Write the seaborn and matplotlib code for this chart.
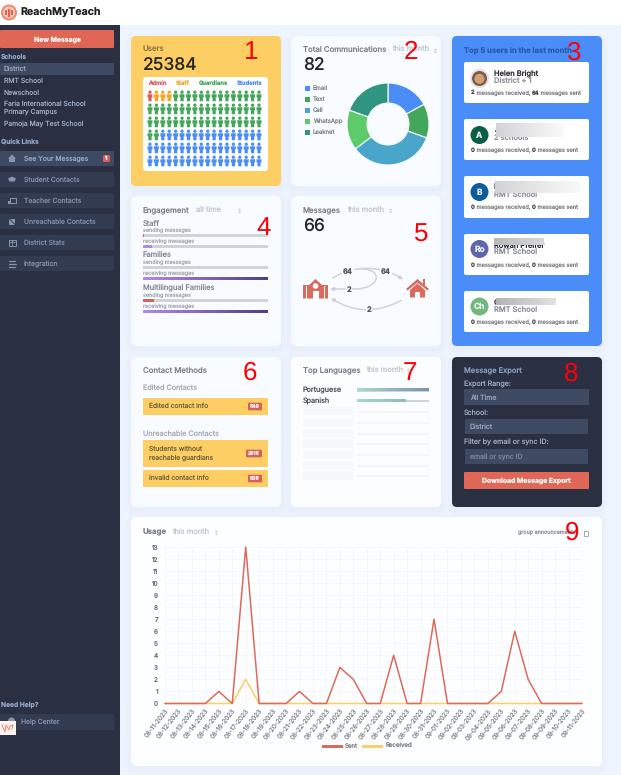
import numpy as np
import pandas as pd
import seaborn as sns
import matplotlib
matplotlib.use('Agg')
import matplotlib.pyplot as plt
from matplotlib.patches import FancyBboxPatch, Rectangle, Circle, Polygon, FancyArrowPatch
from matplotlib.path import Path
from matplotlib.colors import LinearSegmentedColormap

# data
user_groups = ['Admin', 'Staff', 'Guardians', 'Students']
user_icons = [1, 3, 52, 52]
user_colors = ['#d9605a', '#f5a623', '#43a65a', '#4b8df8']

comm_labels = ['Email', 'Text', 'Call', 'WhatsApp', 'Leaknet']
comm_values = [14, 11, 28, 13, 16]
comm_colors = ['#4b8df8', '#43a65a', '#4aa5cb', '#5ecb6b', '#2f9480']

top_users = ['Helen Bright', 'A', 'B', 'Rowan Pfeifer', 'Ch']
top_schools = ['District + 1', '2 schools', 'RMT School', 'RMT School', 'RMT School']
top_received = [2, 0, 0, 0, 0]
top_sent = [64, 0, 0, 0, 0]
top_initials = ['', 'A', 'B', 'Ro', 'Ch']
top_avatar = ['#d0a27c', '#0d5c46', '#0d5b9c', '#6165ad', '#74b77c']

eng_groups = ['Staff', 'Families', 'Multilingual Families']
eng_sending = [0.01, 0.0, 0.09]
eng_receiving = [0.07, 1.0, 1.0]

flow_top = [64, 64]
flow_bottom = [2, 2]

lang_names = ['Portuguese', 'Spanish']
lang_values = [1.0, 0.67]

dates = ['08-11-2023', '08-12-2023', '08-13-2023', '08-14-2023', '08-15-2023', '08-16-2023', '08-17-2023', '08-18-2023',
         '08-19-2023', '08-20-2023', '08-21-2023', '08-22-2023', '08-23-2023', '08-24-2023', '08-25-2023', '08-26-2023',
         '08-27-2023', '08-28-2023', '08-29-2023', '08-30-2023', '08-31-2023', '09-01-2023', '09-02-2023', '09-03-2023',
         '09-04-2023', '09-05-2023', '09-06-2023', '09-07-2023', '09-08-2023', '09-09-2023', '09-10-2023', '09-11-2023']
sent = [0, 0, 0, 0, 1, 0, 13, 0, 0, 0, 1, 0, 0, 3, 2, 0, 0, 4, 0, 0, 7, 0, 0, 0, 0, 1, 6, 2, 0, 0, 0, 0]
received = [0, 0, 0, 0, 0, 0, 2, 0, 0, 0, 0, 0, 0, 0, 0, 0, 0, 0, 0, 0, 0, 0, 0, 0, 0, 0, 0, 0, 0, 0, 0, 0]

sns.set_theme(style='white')
plt.rcParams['font.family'] = ['Inter', 'DejaVu Sans']
plt.rcParams['text.hinting'] = 'no_hinting'
plt.rcParams['text.hinting_factor'] = 1

W, H = 621, 775
RED = '#e06655'
DARK = '#2a3042'
YELLOW = '#fdce63'
CARD = '#f8fbff'

fig = plt.figure(figsize=(W / 100, H / 100), dpi=100, facecolor='#eff5fe')
bg = fig.add_axes([0, 0, 1, 1], zorder=0)
bg.set_xlim(0, W)
bg.set_ylim(H, 0)
bg.autoscale(False)
bg.axis('off')


def box(x0, y0, x1, y1, color, r=2, z=2, ax=bg, **kw):
    ax.add_patch(FancyBboxPatch((x0 + r, y0 + r), x1 - x0 - 2 * r, y1 - y0 - 2 * r,
                                boxstyle=f'round,pad={r},rounding_size={r}', fc=color, ec='none', zorder=z, **kw))


def card(x0, y0, x1, y1, color=CARD):
    # soft shadow under each card
    for grow, a in [(6, 0.05), (4, 0.06), (2, 0.08)]:
        box(x0 - grow, y0 - grow + 3, x1 + grow, y1 + grow + 3, '#c9d9f0', r=5 + grow, z=1, alpha=a)
    box(x0, y0, x1, y1, color, r=5, z=2)


def txt(x, y, s, size=5, color='#8a8f98', weight='normal', ha='left', ax=bg, **kw):
    return ax.text(x, y, s, fontsize=size, color=color, fontweight=weight, ha=ha, va='center', zorder=6, **kw)


def gradient(x0, y0, x1, y1, c0, c1, z=4):
    cmap = LinearSegmentedColormap.from_list('g', [c0, c1])
    bg.imshow(np.linspace(0, 1, 64).reshape(1, -1), extent=(x0, x1, y1, y0), cmap=cmap, aspect='auto', zorder=z)


def sub_axes(x0, y0, x1, y1):
    a = fig.add_axes([x0 / W, 1 - y1 / H, (x1 - x0) / W, (y1 - y0) / H], zorder=2)
    a.patch.set_alpha(0)
    return a


def sorter(x, y):
    txt(x, y, '⇕', size=4.5, color='#b5b9c0', ha='center', family='DejaVu Sans')


renderer = fig.canvas.get_renderer()

# header and sidebar
bg.add_patch(Rectangle((0, 25), 119.5, H - 25, fc=DARK, ec='none', zorder=1))
bg.add_patch(Rectangle((0, 0), W, 25, fc='white', ec='none', zorder=1))
bg.add_patch(Circle((9, 12.5), 8, fc='#ee8a72', ec='none', zorder=3))
bg.add_patch(Circle((9, 12.5), 6, fc='#f9c9ba', ec='none', zorder=3))
for bx, bh in [(6, 5), (9, 8), (12, 5)]:
    bg.add_patch(Rectangle((bx - 1, 12.5 - bh / 2), 2, bh, fc='#e2624f', ec='none', zorder=4))
txt(20, 12.5, 'ReachMyTeach', size=7.6, color='#222222', weight='bold')

box(0, 30, 114, 48, RED, r=1)
txt(57, 39.5, 'New Message', size=4.9, color='white', weight='bold', ha='center')

HEAD = '#8fa3c4'
ITEM = '#98a7c0'
txt(1, 57.5, 'Schools', size=4.8, color=HEAD, weight='bold')
box(0, 63, 114, 75, '#3d4a62', r=1.5)
txt(4, 69, 'District', size=4.9, color=ITEM)
txt(4, 80.5, 'RMT School', size=4.9, color=ITEM)
txt(4, 92.5, 'Newschool', size=4.9, color=ITEM)
txt(4, 104, 'Faria International School', size=4.9, color=ITEM)
txt(4, 112, 'Primary Campus', size=4.9, color=ITEM)
txt(4, 123.5, 'Pamoja May Test School', size=4.9, color=ITEM)
txt(1, 141.5, 'Quick Links', size=4.8, color=HEAD, weight='bold')

nav_items = ['See Your Messages', 'Student Contacts', 'Teacher Contacts', 'Unreachable Contacts', 'District Stats', 'Integration']
ICONC = '#8795ad'
for i, name in enumerate(nav_items):
    y = 151 + 21 * i
    box(0, y, 114, y + 15, '#3d4a62' if i == 0 else '#333b50', r=1.5)
    txt(24, y + 7.8, name, size=4.9, color=ITEM if i == 0 else '#7f8da6')
    cy = y + 7.5
    if i == 0:
        bg.add_patch(Polygon([(8, cy), (12, cy - 4), (16, cy), (15, cy), (15, cy + 3.5), (9, cy + 3.5), (9, cy)], fc=ICONC, ec='none', zorder=4))
    elif i == 1:
        bg.add_patch(Polygon([(8, cy - 1), (12, cy - 3), (16, cy - 1), (14.5, cy + 2), (9.5, cy + 2)], fc=ICONC, ec='none', zorder=4))
    elif i == 2:
        bg.add_patch(Rectangle((9.5, cy - 3), 6.5, 5, fc='none', ec=ICONC, lw=0.7, zorder=4))
        bg.add_patch(Rectangle((8, cy), 3, 3.5, fc=ICONC, ec='none', zorder=4))
    elif i == 3:
        bg.add_patch(Polygon([(9, cy - 3), (15, cy - 3), (15, cy + 3.5), (9, cy + 3.5)], fc=ICONC, ec='none', zorder=4))
        bg.plot([8, 16], [cy - 4, cy + 4], color='#333b50', lw=0.6, zorder=5)
    elif i == 4:
        bg.add_patch(Rectangle((8.5, cy - 3), 7, 6, fc='none', ec=ICONC, lw=0.7, zorder=4))
        bg.plot([8.5, 15.5], [cy - 1, cy - 1], color=ICONC, lw=0.6, zorder=4)
        bg.plot([12, 12], [cy - 3, cy + 3], color=ICONC, lw=0.6, zorder=4)
    else:
        for dy, x0, x1 in [(-3, 9, 15), (0, 8.5, 15.5), (3, 9, 15)]:
            bg.plot([x0, x1], [cy + dy, cy + dy], color=ICONC, lw=0.9, zorder=4)
box(103, 155, 110, 162, '#d9605a', r=1, z=4)
txt(106.5, 158.6, '1', size=3.8, color='white', weight='bold', ha='center')

txt(1, 704.5, 'Need Help?', size=4.8, color=HEAD, weight='bold')
box(0, 714, 114, 730, '#333b50', r=1.5)
txt(21, 721.5, 'Help Center', size=4.9, color='#7f8da6')
bg.add_patch(Circle((11.5, 721), 3.5, fc='#8795ad', ec='none', zorder=4))

# cards
card(131, 36, 281, 186, YELLOW)
card(291, 36, 441, 186)
card(452, 36, 602, 346, '#4b8df8')
card(131, 196, 281, 346)
card(291, 196, 441, 346)
card(131, 357, 281, 507)
card(291, 357, 441, 507, '#fcfdff')
card(452, 357, 602, 507, DARK)
card(131, 517, 602, 766, '#fdfeff')

# 1 users
txt(143, 50, 'Users', size=5.6, color='#8b7a45', weight='medium')
txt(143, 65.5, '25384', size=12.5, color='#26282c', weight='medium')
box(143, 77, 268, 171, 'white', r=3, z=3)
for (lx, name, c) in zip([148, 176, 199, 237], user_groups, user_colors):
    txt(lx, 83, name, size=4.2, color=c, weight='bold')

# people as one custom marker: head + body
head = Path.circle((0, 0.68), 0.31)
body = Path([(-0.46, 0.3), (0.46, 0.3), (0.46, -0.3), (0.3, -0.3), (0.3, -1), (-0.3, -1), (-0.3, -0.3), (-0.46, -0.3), (-0.46, 0.3)],
            [1, 2, 2, 2, 2, 2, 2, 2, 79])
person = Path.make_compound_path(head, body)

n_cols = 18
people = pd.DataFrame({'idx': np.arange(sum(user_icons)), 'group': np.repeat(user_groups, user_icons)})
people['col'] = people['idx'] % n_cols
people['row'] = people['idx'] // n_cols
ax_w = sub_axes(146, 90, 263, 167)
sns.scatterplot(data=people, x='col', y='row', hue='group', palette=dict(zip(user_groups, user_colors)),
                marker=person, s=60, linewidth=0, legend=False, ax=ax_w)
ax_w.set_xlim(-0.62, 17.62)
ax_w.set_ylim(5.47, -0.45)
ax_w.axis('off')

# 2 communications
txt(303, 50, 'Total Communications', size=5.6, color='#7d828a', weight='medium')
txt(392, 50, 'this month', size=5.4, color='#c3c6cc')
sorter(435, 51)
txt(303, 65.5, str(sum(comm_values)), size=12.5, color='#26282c', weight='medium')
for i, (name, c) in enumerate(zip(comm_labels, comm_colors)):
    y = 88 + 11 * i
    bg.add_patch(Rectangle((304.5, y - 2.5), 5, 5, fc=c, ec='none', zorder=4))
    txt(313, y, name, size=4.3, color='#80858c')
ax_p = sub_axes(346, 82, 430, 166)
ax_p.pie(comm_values, colors=comm_colors, startangle=90, counterclock=False, radius=1,
         wedgeprops=dict(width=0.49, edgecolor='white', linewidth=0.8))
ax_p.set_xlim(-1.024, 1.024)
ax_p.set_ylim(-1.024, 1.024)

# 3 top users
txt(464, 50, 'Top 5 users in the last month', size=5.5, color='#2b5aa8', weight='bold')
top_boxes = [(62, 103), (119, 160), (176, 218), (234, 275), (291, 332)]
avatar_y = [78.5, 135, 192, 249, 306.5]
name_y = [73.5, 130, 187, 246, 303]
school_y = [80.5, 138, 195, 252, 309.5]
for i, (y0, y1) in enumerate(top_boxes):
    box(464, y0, 589, y1, 'white', r=2, z=3)
    ay = avatar_y[i]
    bg.add_patch(Circle((479.5, ay), 9 if i else 9.5, fc=top_avatar[i] if i else '#d4e3ff', ec='none', zorder=4))
    if top_initials[i]:
        txt(479.5, ay + 0.2, top_initials[i], size=6, color='#e8f2ee', weight='bold', ha='center')
    else:
        bg.add_patch(Circle((479.5, ay), 7.5, fc='#8a5a33', ec='none', zorder=4))
        bg.add_patch(Circle((479.5, ay + 0.3), 5, fc=top_avatar[0], ec='none', zorder=4))
    txt(494, name_y[i], top_users[i], size=5.4, color='#2c2e33', weight='medium')
    txt(494, school_y[i], top_schools[i], size=5.4, color='#8d909c', weight='medium')
    # bold counts inside one sentence, placed piece by piece on one baseline
    x = 471
    pieces = [(str(top_received[i]), '#44464c', 'bold'), (' messages received, ', '#77797f', 'normal'),
              (str(top_sent[i]), '#44464c', 'bold'), (' messages sent', '#77797f', 'normal')]
    for s, c, w in pieces:
        t = bg.text(x, y0 + 32.5, s, fontsize=4.1, color=c, fontweight=w, va='baseline', zorder=6)
        x += t.get_window_extent(renderer).width
# blurred names sit over the text
gradient(496, 123, 564, 137, '#d4d4d6', '#fafafa', z=7)
gradient(495, 181, 581, 193, '#d4d4d6', '#fafafa', z=7)
gradient(494, 238, 544, 245, '#b9b9bb', '#d8d8da', z=7)
gradient(496, 298, 556, 305, '#b4b4b6', '#e2e2e4', z=7)

# 4 engagement
txt(143, 211, 'Engagement', size=5.6, color='#7d828a', weight='medium')
txt(195.5, 211, 'all time', size=5.4, color='#c3c6cc')
sorter(239, 211.5)
eng_y = [223.5, 255.5, 288.5]
for name, ey, s, r in zip(eng_groups, eng_y, eng_sending, eng_receiving):
    txt(143, ey, name, size=5.4, color='#85888f')
    txt(143, ey + 6.5, 'sending messages', size=3.9, color='#a6a9af')
    txt(143, ey + 17.5, 'receiving messages', size=3.9, color='#a6a9af')
    bg.add_patch(Rectangle((143, ey + 10.5), 125, 2.5, fc='#cfd3d8', ec='none', zorder=3))
    bg.add_patch(Rectangle((143, ey + 21.5), 125, 2.8, fc='#cfd3d8', ec='none', zorder=3))
    bg.add_patch(Rectangle((143, ey + 10.5), 125 * s, 2.5, fc='#d9605a', ec='none', zorder=4))
    if r < 1:
        bg.add_patch(Rectangle((143, ey + 21.5), 125 * r, 2.8, fc='#b388eb', ec='none', zorder=4))
    else:
        gradient(143, ey + 21.5, 268, ey + 24.3, '#b388eb', '#4f3f86')

# 5 messages flow
txt(303, 211, 'Messages', size=5.6, color='#7d828a', weight='medium')
txt(347, 211, 'this month', size=5.4, color='#c3c6cc')
sorter(390, 211.5)
txt(303, 226.5, str(flow_top[0] + flow_bottom[0]), size=12.5, color='#26282c', weight='medium')
ARROW = '#cfd3d6'


def arrow(verts, codes):
    bg.add_patch(FancyArrowPatch(path=Path(verts, codes), arrowstyle='-|>', mutation_scale=5, lw=1.1,
                                 color=ARROW, zorder=4))


C4 = Path.CURVE4
arrow([(333, 278), (352, 265), (382, 265), (403, 279.5)], [Path.MOVETO, C4, C4, C4])
arrow([(358, 269), (384, 267), (382, 289), (354, 289), (330, 289)], [Path.MOVETO, C4, C4, C4, Path.LINETO])
arrow([(401, 300.5), (376, 314), (352, 312), (331, 298)], [Path.MOVETO, C4, C4, C4])
for x, y, v in [(348, 272, flow_top[0]), (386, 272, flow_top[1]), (349, 290, flow_bottom[0]), (369, 309.5, flow_bottom[1])]:
    txt(x, y, str(v), size=5.4, color='#55585e', weight='bold', ha='center',
        bbox=dict(fc=CARD, ec='none', pad=0.6))

ICON = '#dc6a5c'
# school icon
bg.add_patch(Polygon([(315.5, 279), (322, 285), (328, 285), (328, 298.5), (303, 298.5), (303, 285), (309, 285)], fc=ICON, ec='none', zorder=4))
for wx in [306.5, 324.5]:
    bg.add_patch(Rectangle((wx - 0.4, 286), 0.8, 12.5, fc='white', ec='none', zorder=5))
bg.add_patch(Circle((315.5, 286), 2.8, fc='white', ec='none', zorder=5))
bg.add_patch(Rectangle((312.5, 291), 6, 7.5, fc='white', ec='none', zorder=5))
# house icon
bg.add_patch(Polygon([(406, 289), (417.5, 279), (429, 289), (427.5, 290.5), (417.5, 282.5), (407.5, 290.5)], fc=ICON, ec='none', zorder=4))
bg.add_patch(Polygon([(410, 290), (417.5, 283.5), (425, 290), (425, 297.5), (420, 297.5), (420, 292), (415, 292), (415, 297.5), (410, 297.5)],
                     fc=ICON, ec='none', zorder=4))
bg.add_patch(Rectangle((422.5, 279), 2.6, 6, fc=ICON, ec='none', zorder=4))

# 6 contact methods
txt(143, 371, 'Contact Methods', size=5.6, color='#7d828a', weight='medium')
txt(143, 387.5, 'Edited Contacts', size=5.2, color='#a6a9af')
txt(143, 433.5, 'Unreachable Contacts', size=5.2, color='#a6a9af')
contact_rows = [(398, 415, ['Edited contact info'], '549'),
                (440, 467, ['Students without', 'reachable guardians'], '2815'),
                (470, 487, ['Invalid contact info'], '606')]
for y0, y1, lines, count in contact_rows:
    box(143, y0, 268, y1, YELLOW, r=1, z=3)
    my = (y0 + y1) / 2
    if len(lines) == 1:
        txt(149, my, lines[0], size=4.8, color='#6f6340')
    else:
        txt(149, my - 4.5, lines[0], size=4.8, color='#6f6340')
        txt(149, my + 4.3, lines[1], size=4.8, color='#6f6340')
    bw = 16 if len(count) == 4 else 14
    box(262 - bw, my - 3.8, 262, my + 3.8, '#d9605a', r=1, z=4)
    txt(262 - bw / 2, my + 0.1, count, size=3.6, color='white', weight='bold', ha='center')

# 7 top languages
txt(303, 371, 'Top Languages', size=5.6, color='#7d828a', weight='medium')
txt(366, 371, 'this month', size=5.4, color='#c3c6cc')
sorter(408, 371.5)
for i, (name, v) in enumerate(zip(lang_names, lang_values)):
    y = [390.5, 401][i]
    txt(303, y, name, size=5.2, color='#4f5258')
    bg.add_patch(Rectangle((357, y - 1.2), 72, 2.2, fc='#cfd3d8', ec='none', zorder=3))
    gradient(357, y - 1.2, 357 + 72 * v, y + 1, '#a5dcc8', '#7a92b0' if v == 1 else '#8fbdb3')
for y in [411, 422, 433, 443.5, 454, 465, 475.5]:
    box(303, y - 4, 353, y + 4, '#f6f7f9', r=1, z=3)
    bg.add_patch(Rectangle((357, y - 0.5), 72, 2, fc='#f3f5f8', ec='none', zorder=3))

# 8 export
txt(464, 371, 'Message Export', size=5.4, color='#8799b8', weight='medium')
txt(464, 384.5, 'Export Range:', size=5.1, color='#97a6c0')
box(464, 389, 589, 405, '#3d4a62', r=1, z=3)
txt(470, 397.5, 'All Time', size=5, color='#95a3bb')
txt(464, 412.5, 'School:', size=5.1, color='#97a6c0')
bg.add_patch(Rectangle((465, 419), 123, 15, fc='#3d4a62', ec='none', zorder=3))
txt(470, 426.5, 'District', size=5, color='#95a3bb')
txt(464, 442.5, 'Filter by email or sync ID:', size=5.1, color='#97a6c0')
bg.add_patch(Rectangle((465, 449), 123, 15, fc='#3d4a62', ec='none', zorder=3))
txt(470, 456.5, 'email or sync ID', size=5, color='#77849c')
box(464, 472, 589, 489, RED, r=1, z=3)
txt(526.5, 480.5, 'Download Message Export', size=4.9, color='white', weight='bold', ha='center')

# 9 usage
txt(143, 532.5, 'Usage', size=5.6, color='#7d828a', weight='bold')
txt(172.5, 532.5, 'this month', size=5.4, color='#c3c6cc')
sorter(216, 533)
txt(518, 532, 'group announcements', size=3.9, color='#8e9197')
bg.add_patch(Rectangle((583.5, 530.5), 4.5, 5, fc='none', ec='#9a9da3', lw=0.6, zorder=5))

usage = pd.DataFrame({'date': dates * 2, 'count': received + sent,
                      'kind': ['Received'] * len(dates) + ['Sent'] * len(dates)})
ax_u = sub_axes(165, 547, 582, 703.5)
sns.lineplot(data=usage, x='date', y='count', hue='kind', hue_order=['Received', 'Sent'],
             palette={'Sent': '#dc6a5c', 'Received': YELLOW}, linewidth=1.1, legend=False, ax=ax_u, clip_on=False)
ax_u.set_xlim(0, len(dates) - 1)
ax_u.set_ylim(0, 13)
ax_u.set_yticks(range(14))
ax_u.set_xticks(range(len(dates)))
ax_u.set_xticklabels(dates, rotation=52, ha='right', va='top', rotation_mode='anchor', fontsize=4.6, color='#8a8c92')
ax_u.tick_params(axis='y', labelsize=4.6, labelcolor='#6e7076', length=0, pad=5)
ax_u.tick_params(axis='x', length=0, pad=3)
ax_u.set_xlabel('')
ax_u.set_ylabel('')
ax_u.grid(True, color='#f3f4f6', lw=0.5)
ax_u.set_axisbelow(True)
for s in ax_u.spines.values():
    s.set_visible(False)

bg.add_patch(Rectangle((322, 745), 21, 2.8, fc='#dc6a5c', ec='none', zorder=4))
txt(345, 746.5, 'Sent', size=4.4, color='#777a80')
bg.add_patch(Rectangle((362, 745), 21, 2.8, fc=YELLOW, ec='none', zorder=4))
txt(386, 746.5, 'Received', size=4.4, color='#777a80')

# overlay: red card numbers and the little corner badge
top = fig.add_axes([0, 0, 1, 1], zorder=5)
top.set_xlim(0, W)
top.set_ylim(H, 0)
top.axis('off')
card_numbers = [(250, 52.5), (411, 52), (573, 53), (264, 228), (421, 235), (250, 373), (410, 373), (571, 374), (572, 533)]
for i, (x, y) in enumerate(card_numbers):
    top.text(x, y, str(i + 1), fontsize=18.5, color='#fb0007', ha='center', va='center', family='Liberation Sans')
top.add_patch(Rectangle((0, 720.5), 16, 14.5, fc='#fdf3f0', ec='none'))
top.add_patch(Rectangle((0, 720.5), 16, 0.8, fc='#e0605a', ec='none'))
top.plot([2, 5, 6, 9, 10, 13, 12], [725, 732, 725, 730, 726, 725, 729], color='#ef8f86', lw=0.8)

bg.set_xlim(0, W)
bg.set_ylim(H, 0)
fig.savefig('out.png', dpi=100)
